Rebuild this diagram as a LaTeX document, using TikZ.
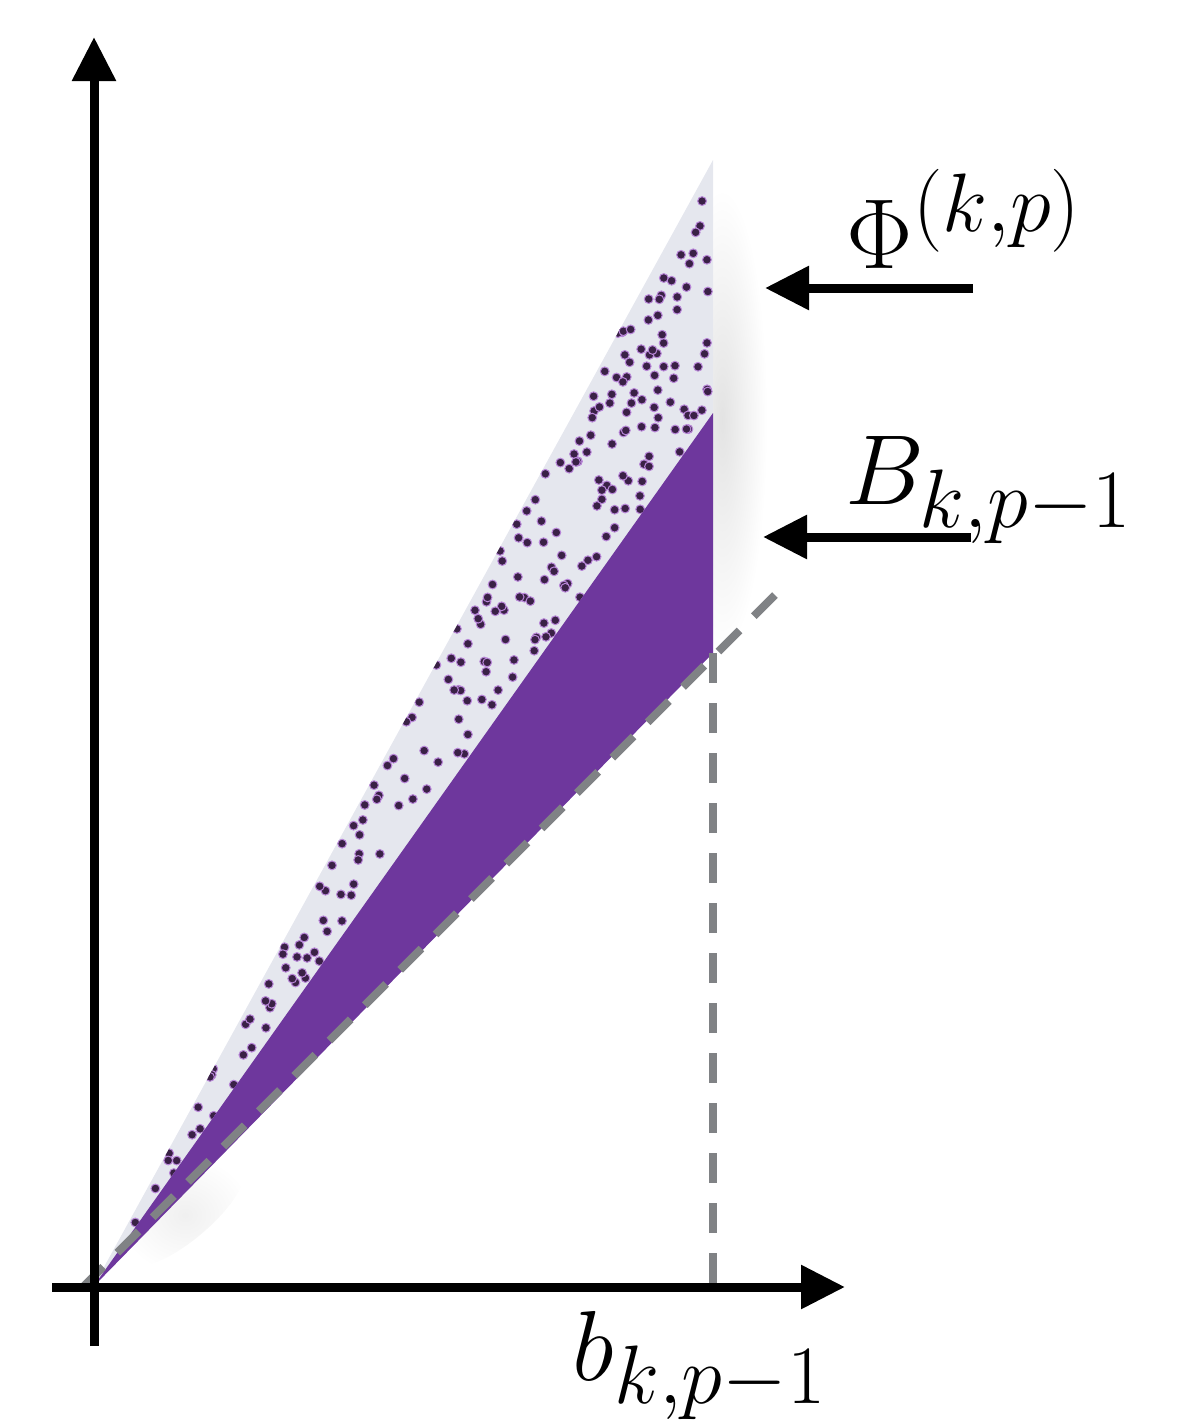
\documentclass[tikz,border=0pt]{standalone}
\usetikzlibrary{arrows.meta,fadings}
\definecolor{lightreg}{HTML}{E5E7EE}
\definecolor{purp}{HTML}{6E379D}
\definecolor{dotc}{HTML}{3A2146}
\definecolor{dothalo}{HTML}{B886D8}
\definecolor{dashg}{HTML}{808285}
\tikzfading[name=softblob, inner color=transparent!15, outer color=transparent!100]
\begin{document}
\begin{tikzpicture}[x=0.25pt,y=-0.25pt,
  axis/.style={line width=2.25pt, -{Triangle[length=11pt,width=10.5pt]}},
  ptr/.style={line width=2.25pt, -{Triangle[length=11pt,width=10.5pt]}},
  guide/.style={dashg, line width=2pt, dash pattern=on 7.5pt off 5pt},
  lab/.style={inner sep=0pt, anchor=base west, font=\fontsize{29.5}{35}\selectfont},
  dotstyle/.style={fill=dotc, draw=dothalo, line width=0.25pt},
  blur/.style={fill=black, opacity=0.13, path fading=softblob}]
\useasboundingbox (0,0) rectangle (1182,1424);
\coordinate (O) at (93,1287);
\coordinate (T) at (713,160);
\coordinate (P) at (713,413);
\coordinate (Q) at (713,653);
\coordinate (Dend) at (778,592);
\coordinate (Dstart) at (82,1288);
\coordinate (Vfoot) at (713,1283);
% soft shadows
\path[blur] (722,420) ellipse [x radius=45, y radius=230];
\path[blur, opacity=0.07, rotate around={40:(185,1215)}] (185,1215) ellipse [x radius=75, y radius=25];
% light region
\fill[lightreg] (O) -- (T) -- (Q) -- cycle;
% dots
\begin{scope}
\clip (O) -- (T) -- (P) -- cycle;
\pgfmathsetseed{7}
\foreach \i in {1,...,230}{
  \pgfmathsetmacro{\u}{rnd}
  \pgfmathsetmacro{\v}{rnd}
  \pgfmathsetmacro{\uu}{(\u+\v>1) ? 1-\u : \u}
  \pgfmathsetmacro{\vv}{(\u+\v>1) ? 1-\v : \v}
  \path[dotstyle] ({93+(\uu+\vv)*620},{1287-\uu*1127-\vv*874}) circle[radius=1.1pt];
}
\end{scope}
% purple region
\fill[purp] (O) -- (P) -- (Q) -- cycle;
% guides
\draw[guide] (Dstart) -- (Dend);
\draw[guide] (Q) -- (Vfoot);
% axes
\coordinate (Ybot) at (94,1346);
\coordinate (Ytop) at (94,37);
\coordinate (Xl) at (52,1287);
\coordinate (Xr) at (845,1287);
\draw[axis] (Ybot) -- (Ytop);
\draw[axis] (Xl) -- (Xr);
% labels
\node[lab] (phi) at (846,268) {$\Phi^{(k,p)}$};
\node[lab] (B) at (845,504) {$B_{k,p-1}$};
\node[lab] (b) at (572,1380) {$b_{k,p-1}$};
% pointers
\coordinate (a1tail) at (973,288);
\coordinate (a1tip) at (765,288);
\coordinate (a2tail) at (971,537);
\coordinate (a2tip) at (763,537);
\draw[ptr] (a1tail) -- (a1tip);
\draw[ptr] (a2tail) -- (a2tip);
\end{tikzpicture}
\end{document}
